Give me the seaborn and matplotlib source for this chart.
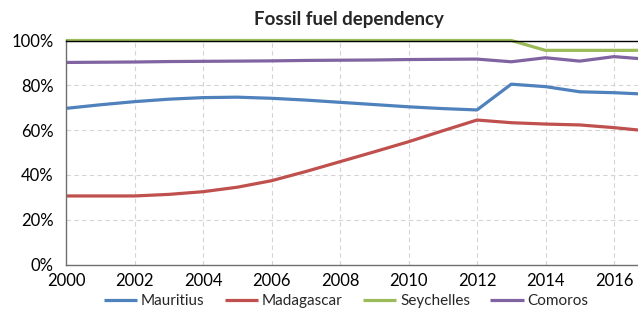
import numpy as np
import pandas as pd
import matplotlib
matplotlib.use("Agg")
import matplotlib.pyplot as plt
import seaborn as sns

# --- Data (share of fossil fuels, %) ---
years = list(range(2000, 2018))
mauritius = [69.7, 71.3, 72.7, 73.8, 74.5, 74.7, 74.2, 73.4, 72.4, 71.4,
             70.4, 69.6, 69.0, 80.5, 79.4, 77.1, 76.7, 76.0]
madagascar = [30.6, 30.6, 30.6, 31.3, 32.5, 34.5, 37.4, 41.5, 45.9, 50.3,
              54.8, 59.7, 64.5, 63.3, 62.7, 62.3, 61.1, 59.6]
seychelles = [100, 100, 100, 100, 100, 100, 100, 100, 100, 100,
              100, 100, 100, 100, 95.6, 95.6, 95.6, 95.6]
comoros = [90.2, 90.3, 90.4, 90.6, 90.7, 90.8, 90.9, 91.1, 91.2, 91.3,
           91.5, 91.6, 91.7, 90.5, 92.3, 90.8, 92.8, 91.6]

countries = ["Mauritius", "Madagascar", "Seychelles", "Comoros"]
colors = ["#4F81BD", "#C0504D", "#9BBB59", "#8064A2"]
x_ticks = list(range(2000, 2017, 2))
y_ticks = [0, 20, 40, 60, 80, 100]

df = pd.DataFrame({"year": years, "Mauritius": mauritius, "Madagascar": madagascar,
                   "Seychelles": seychelles, "Comoros": comoros})
long_df = df.melt(id_vars="year", var_name="country", value_name="share")

# --- Style ---
sns.set_theme(style="white")
plt.rcParams["font.family"] = ["Lato", "DejaVu Sans"]

fig = plt.figure(figsize=(6.38, 3.14), dpi=100)
ax = fig.add_axes([66 / 638, (314 - 264.5) / 314, 1 - 66 / 638, 224 / 314])

sns.lineplot(data=long_df, x="year", y="share", hue="country", hue_order=countries,
             palette=dict(zip(countries, colors)), linewidth=2.3, ax=ax, legend=True)
for line in ax.lines:
    line.set_clip_on(False)
    line.set_solid_capstyle("butt")

ax.set_xlim(2000, 2016.7)
ax.set_ylim(0, 100)
ax.set_xticks(x_ticks)
ax.set_yticks(y_ticks)
ax.set_yticklabels([f"{v}%" for v in y_ticks])
ax.tick_params(axis="both", length=0, labelsize=12, colors="black")
ax.tick_params(axis="y", pad=9)
ax.tick_params(axis="x", pad=6)
ax.grid(True, linestyle=(0, (4, 3)), color="#d4d4d4", linewidth=0.8)
ax.set_axisbelow(True)
ax.set_xlabel("")
ax.set_ylabel("")

ax.spines["left"].set_color("#6f6f6f")
ax.spines["bottom"].set_color("#6f6f6f")
ax.spines["top"].set_color("black")
ax.spines["right"].set_visible(False)
for s in ax.spines.values():
    s.set_linewidth(1.0)

fig.text(349 / 638, 1 - 20 / 314, "Fossil fuel dependency", ha="center", va="center",
         fontsize=13.5, fontweight="bold")

handles, labels = ax.get_legend_handles_labels()
ax.legend(handles, labels, loc="center", bbox_to_anchor=(346 / 638, 1 - 301 / 314),
          bbox_transform=fig.transFigure, ncol=4, frameon=False, fontsize=11,
          handlelength=2.2, handletextpad=0.25, columnspacing=1.3)

fig.savefig("out.png", dpi=100)
